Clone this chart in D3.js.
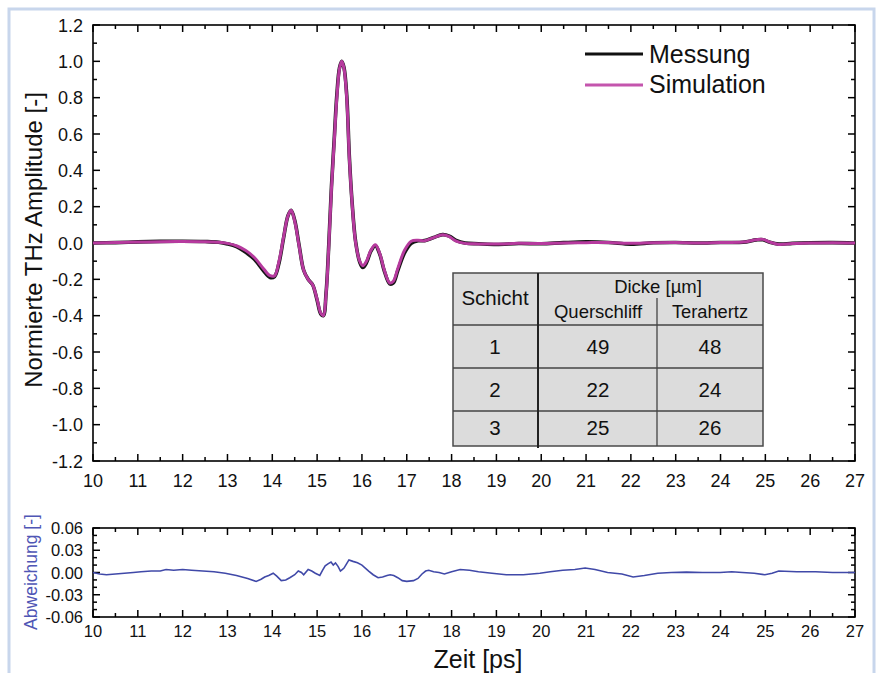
<!DOCTYPE html>
<html>
<head>
<meta charset="utf-8">
<script src="https://cdn.jsdelivr.net/npm/d3@7"></script>
<style>
  body { margin: 0; background: #fff; }
  text { font-family: "Liberation Sans", Arial, sans-serif; fill: #111; }
</style>
</head>
<body>
<script>
// Zeitachse (ps) fuer Messung / Simulation
const zeit = [10.0, 10.5, 11.0, 11.5, 12.0, 12.5, 12.8, 13.0, 13.2, 13.4, 13.6, 13.8, 13.95, 14.05, 14.15, 14.25, 14.35, 14.42, 14.5, 14.6, 14.7, 14.8, 14.9, 15.0, 15.08, 15.14, 15.2, 15.26, 15.32, 15.38, 15.44, 15.5, 15.55, 15.6, 15.66, 15.72, 15.78, 15.86, 15.95, 16.02, 16.1, 16.2, 16.3, 16.4, 16.5, 16.62, 16.7, 16.8, 16.95, 17.1, 17.25, 17.4, 17.6, 17.8, 17.95, 18.1, 18.3, 18.6, 19.0, 19.5, 20.0, 20.5, 21.0, 21.5, 22.0, 22.5, 23.0, 23.5, 24.0, 24.5, 24.8, 24.95, 25.1, 25.3, 25.6, 26.0, 26.5, 27.0];
const simulation = [0.0, 0.003, 0.005, 0.007, 0.008, 0.007, 0.004, -0.002, -0.015, -0.04, -0.08, -0.14, -0.18, -0.18, -0.10, 0.03, 0.15, 0.18, 0.12, -0.02, -0.15, -0.20, -0.23, -0.31, -0.385, -0.40, -0.28, -0.02, 0.30, 0.55, 0.80, 0.96, 1.0, 0.96, 0.80, 0.46, 0.22, 0.0, -0.10, -0.125, -0.10, -0.04, -0.01, -0.06, -0.15, -0.22, -0.21, -0.14, -0.04, 0.01, 0.015, 0.012, 0.03, 0.045, 0.035, 0.01, -0.002, -0.005, -0.006, -0.002, -0.003, 0.0, 0.002, 0.003, -0.002, 0.002, 0.003, 0.0, 0.003, 0.005, 0.018, 0.02, 0.005, -0.008, -0.003, 0.0, 0.002, 0.0];
const messung = [0.0, 0.002, 0.006, 0.009, 0.01, 0.008, 0.004, -0.005, -0.02, -0.05, -0.09, -0.152, -0.19, -0.185, -0.11, 0.025, 0.15, 0.18, 0.125, -0.015, -0.15, -0.20, -0.23, -0.315, -0.39, -0.40, -0.275, -0.01, 0.31, 0.565, 0.815, 0.965, 1.0, 0.965, 0.815, 0.47, 0.225, 0.005, -0.105, -0.135, -0.11, -0.045, -0.015, -0.064, -0.155, -0.225, -0.22, -0.152, -0.055, -0.002, 0.012, 0.013, 0.03, 0.046, 0.038, 0.015, 0.0, -0.004, -0.008, -0.003, -0.004, 0.002, 0.006, 0.003, -0.006, 0.001, 0.003, 0.0, 0.003, 0.004, 0.017, 0.018, 0.004, -0.006, -0.002, 0.001, 0.002, 0.0];

// Abweichung (unteres Diagramm)
const abwZeit = [10.0, 10.15, 10.3, 10.5, 10.7, 10.9, 11.07, 11.3, 11.5, 11.63, 11.8, 12.0, 12.2, 12.45, 12.7, 12.95, 13.2, 13.45, 13.64, 13.75, 13.83, 13.92, 14.02, 14.1, 14.2, 14.3, 14.39, 14.5, 14.58, 14.65, 14.7, 14.8, 14.88, 14.96, 15.06, 15.12, 15.18, 15.25, 15.31, 15.36, 15.41, 15.47, 15.52, 15.56, 15.6, 15.66, 15.71, 15.8, 15.9, 16.0, 16.15, 16.25, 16.36, 16.46, 16.56, 16.63, 16.71, 16.8, 16.9, 17.0, 17.15, 17.25, 17.34, 17.42, 17.49, 17.6, 17.72, 17.84, 18.0, 18.19, 18.4, 18.6, 18.9, 19.22, 19.6, 19.97, 20.2, 20.48, 20.75, 20.98, 21.2, 21.48, 21.8, 22.05, 22.3, 22.6, 22.9, 23.24, 23.6, 23.99, 24.25, 24.49, 24.75, 24.99, 25.15, 25.3, 25.7, 26.12, 26.5, 27.0];
const abweichung = [0.0, -0.002, -0.003, -0.002, -0.001, 0.0, 0.001, 0.002, 0.002, 0.004, 0.003, 0.004, 0.003, 0.002, 0.001, -0.001, -0.004, -0.008, -0.012, -0.009, -0.006, -0.004, -0.001, -0.005, -0.011, -0.01, -0.007, -0.003, 0.002, 0.0, -0.003, 0.004, 0.002, -0.001, -0.004, 0.003, 0.009, 0.012, 0.014, 0.01, 0.013, 0.008, 0.002, 0.004, 0.006, 0.012, 0.017, 0.015, 0.013, 0.01, 0.002, -0.003, -0.007, -0.006, -0.004, -0.003, -0.004, -0.007, -0.011, -0.012, -0.011, -0.008, -0.002, 0.002, 0.003, 0.001, 0.0, -0.002, 0.001, 0.004, 0.003, 0.001, -0.001, -0.003, -0.003, -0.001, 0.001, 0.003, 0.004, 0.006, 0.004, 0.0, -0.002, -0.006, -0.004, -0.001, 0.0, 0.0005, 0.0, 0.0, 0.001, 0.0, -0.001, -0.003, -0.001, 0.002, 0.001, 0.001, 0.0, 0.0];

// Tabelle
const schichten = ["1", "2", "3"];
const querschliff = [49, 22, 25];
const terahertz = [48, 24, 26];

const W = 880, H = 673;
const svg = d3.select("body").append("svg")
    .attr("width", W)
    .attr("height", H);

// heller blauer Rahmen
svg.append("rect")
    .attr("x", 9).attr("y", 9)
    .attr("width", 865).attr("height", 700)
    .attr("fill", "none")
    .attr("stroke", "#c8d6ec")
    .attr("stroke-width", 3);

const x = d3.scaleLinear().domain([10, 27]).range([93, 855]);
const y = d3.scaleLinear().domain([-1.2, 1.2]).range([461, 25]);
const y2 = d3.scaleLinear().domain([-0.06, 0.06]).range([617, 528]);

const xMajor = d3.range(10, 27.01, 1);
const xMinor = d3.range(10.5, 27, 1);
const hyphen = f => d => f(d).replace("\u2212", "-");

function ticksBox(yScale, yMajor, yMinor, fmt, fontSize, xOff, yOff) {
  const [b, t] = yScale.range();
  const g = svg.append("g");
  const tick = (xa, ya, xb, yb) => g.append("line")
      .attr("x1", xa).attr("y1", ya).attr("x2", xb).attr("y2", yb)
      .attr("stroke", "#000").attr("stroke-width", 1.5);
  xMajor.forEach(v => { tick(x(v), b, x(v), b - 7); tick(x(v), t, x(v), t + 7); });
  xMinor.forEach(v => { tick(x(v), b, x(v), b - 4); tick(x(v), t, x(v), t + 4); });
  yMajor.forEach(v => { tick(93, yScale(v), 100, yScale(v)); tick(855, yScale(v), 848, yScale(v)); });
  yMinor.forEach(v => { tick(93, yScale(v), 97, yScale(v)); tick(855, yScale(v), 851, yScale(v)); });
  g.append("rect")
      .attr("x", 93).attr("y", t)
      .attr("width", 855 - 93).attr("height", b - t)
      .attr("fill", "none").attr("stroke", "#000").attr("stroke-width", 1.6);
  g.selectAll(".xl").data(xMajor).enter().append("text")
      .attr("x", d => x(d)).attr("y", b + xOff)
      .attr("text-anchor", "middle")
      .attr("font-size", fontSize)
      .text(d => d);
  g.selectAll(".yl").data(yMajor).enter().append("text")
      .attr("x", 83).attr("y", d => yScale(d) + yOff)
      .attr("text-anchor", "end")
      .attr("font-size", fontSize)
      .text(fmt);
}

ticksBox(y, d3.range(-1.2, 1.21, 0.2), d3.range(-1.1, 1.2, 0.2), hyphen(d3.format(".1f")), 18, 26, 6.5);
ticksBox(y2, [-0.06, -0.03, 0, 0.03, 0.06],
    [-0.05, -0.04, -0.02, -0.01, 0.01, 0.02, 0.04, 0.05], hyphen(d3.format(".2f")), 16.5, 20, 6);

// Kurven
const line = d3.line()
    .x((d, i) => x(zeit[i]))
    .y(d => y(d))
    .curve(d3.curveCatmullRom.alpha(0.5));

svg.append("path").datum(messung)
    .attr("d", line)
    .attr("fill", "none").attr("stroke", "#151515").attr("stroke-width", 3.6);
svg.append("path").datum(simulation)
    .attr("d", line)
    .attr("fill", "none").attr("stroke", "#b63a9e").attr("stroke-width", 3);

svg.append("path").datum(abweichung)
    .attr("d", d3.line().x((d, i) => x(abwZeit[i])).y(d => y2(d)))
    .attr("fill", "none").attr("stroke", "#4049a8").attr("stroke-width", 1.6);

// Legende
const legend = [["Messung", "#111", 54, 63], ["Simulation", "#c455ad", 85, 93]];
legend.forEach(([name, col, ly, by]) => {
  svg.append("line").attr("x1", 585).attr("x2", 643).attr("y1", ly).attr("y2", ly)
      .attr("stroke", col).attr("stroke-width", 3);
  svg.append("text").attr("x", 649).attr("y", by)
      .attr("font-size", 25).text(name);
});

// Tabelle
const tab = svg.append("g");
tab.append("rect").attr("x", 453).attr("y", 273).attr("width", 310).attr("height", 173)
    .attr("fill", "#dcdcdc").attr("stroke", "#4a4a4a").attr("stroke-width", 1.5);
[325, 368, 411].forEach(ly => tab.append("line")
    .attr("x1", 453).attr("x2", 763).attr("y1", ly).attr("y2", ly)
    .attr("stroke", "#444").attr("stroke-width", 1.5));
tab.append("line").attr("x1", 538).attr("x2", 538).attr("y1", 273).attr("y2", 448)
    .attr("stroke", "#222").attr("stroke-width", 2);
tab.append("line").attr("x1", 657).attr("x2", 657).attr("y1", 298).attr("y2", 446)
    .attr("stroke", "#444").attr("stroke-width", 1.3);
const cell = (tx, ty, s, fs) => tab.append("text").attr("x", tx).attr("y", ty)
    .attr("text-anchor", "middle").attr("font-size", fs).text(s);
cell(495, 305, "Schicht", 20.5);
cell(658, 293, "Dicke [µm]", 18.5);
cell(598, 318, "Querschliff", 18.5);
cell(710, 318, "Terahertz", 18.3);
const rowY = [354, 397, 435];
schichten.forEach((s, i) => {
  cell(495, rowY[i], s, 20.5);
  cell(598, rowY[i], querschliff[i], 20.5);
  cell(710, rowY[i], terahertz[i], 20.5);
});

// Achsentitel
svg.append("text")
    .attr("transform", "translate(42,240) rotate(-90)")
    .attr("text-anchor", "middle").attr("font-size", 24)
    .text("Normierte THz Amplitude [-]");
svg.append("text")
    .attr("transform", "translate(37,572) rotate(-90)")
    .attr("text-anchor", "middle").attr("font-size", 17.5)
    .style("fill", "#4f56b5")
    .text("Abweichung [-]");
svg.append("text")
    .attr("x", 478).attr("y", 668)
    .attr("text-anchor", "middle").attr("font-size", 25)
    .text("Zeit [ps]");
</script>
</body>
</html>
